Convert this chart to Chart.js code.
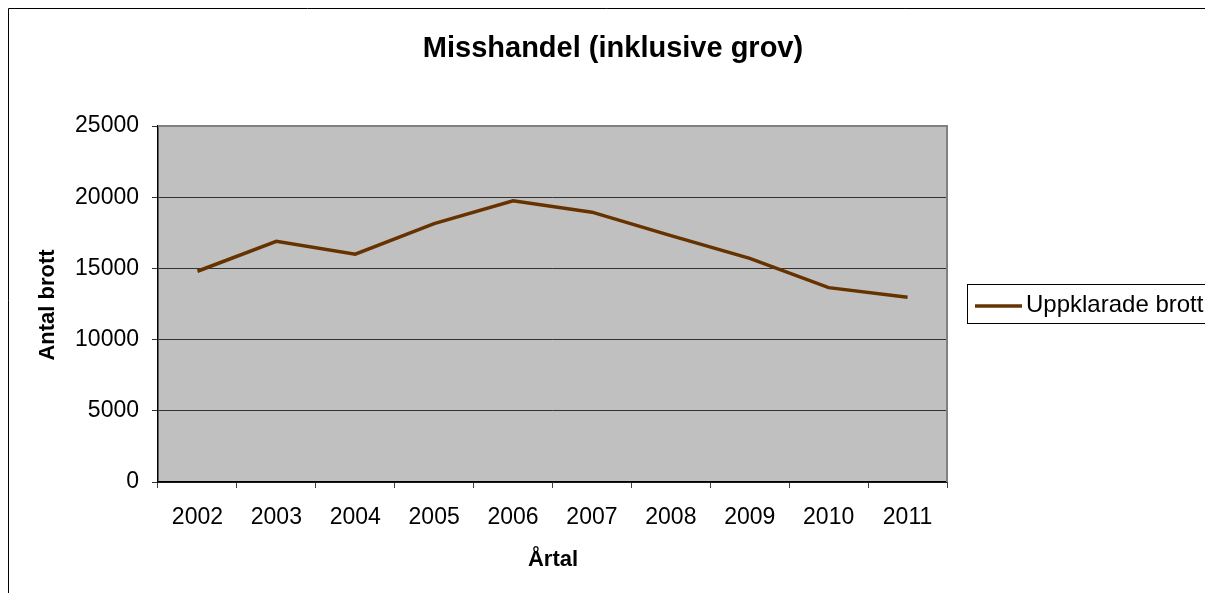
<!DOCTYPE html>
<html>
<head>
<meta charset="utf-8">
<script src="https://cdn.jsdelivr.net/npm/chart.js@4"></script>
<style>
  body { margin: 0; background: #fff; }
  canvas { display: block; }
</style>
</head>
<body>
<canvas id="chart" width="1205" height="593"></canvas>
<script>
// chart data
const years = ['2002', '2003', '2004', '2005', '2006', '2007', '2008', '2009', '2010', '2011'];
const solvedCrimes = [14800, 16900, 16000, 18150, 19750, 18950, 17300, 15700, 13650, 12980];
const yTicks = [0, 5000, 10000, 15000, 20000, 25000];

const chartTitle = 'Misshandel (inklusive grov)';
const seriesLabel = 'Uppklarade brott';
const xTitle = 'Årtal';
const yTitle = 'Antal brott';

const font = '"Liberation Sans", Arial, sans-serif';

// draws frame, grey plot background, titles and legend
const decorations = {
    id: 'decorations',
    beforeDraw(chart) {
        const c = chart.ctx;
        const a = chart.chartArea;
        c.save();
        c.fillStyle = '#c0c0c0';
        c.fillRect(a.left, a.top, a.right - a.left, a.bottom - a.top);
        c.restore();
    },
    afterDraw(chart) {
        const c = chart.ctx;
        const a = chart.chartArea;
        c.save();

        // plot area top/right edges
        c.strokeStyle = '#808080';
        c.lineWidth = 2;
        c.beginPath();
        c.moveTo(a.left, a.top);
        c.lineTo(a.right, a.top);
        c.lineTo(a.right, a.bottom);
        c.stroke();

        // outer frame
        c.strokeStyle = '#000';
        c.lineWidth = 1;
        c.beginPath();
        c.moveTo(8.5, 593);
        c.lineTo(8.5, 8.5);
        c.lineTo(1205, 8.5);
        c.stroke();

        c.fillStyle = '#000';
        c.textAlign = 'center';
        c.textBaseline = 'middle';

        c.font = 'bold 29px ' + font;
        c.fillText(chartTitle, 613, 49);

        c.font = 'bold 22px ' + font;
        c.fillText(xTitle, 553, 560);

        c.save();
        c.translate(48, 305);
        c.rotate(-Math.PI / 2);
        c.fillText(yTitle, 0, 0);
        c.restore();

        // legend
        c.strokeStyle = '#000';
        c.lineWidth = 1;
        c.strokeRect(967.5, 284.5, 250, 39);
        c.strokeStyle = '#663300';
        c.lineWidth = 3.5;
        c.beginPath();
        c.moveTo(975, 306);
        c.lineTo(1022, 306);
        c.stroke();
        c.font = '24px ' + font;
        c.textAlign = 'left';
        c.fillText(chart.data.datasets[0].label, 1026, 305);

        c.restore();
    }
};

new Chart(document.getElementById('chart'), {
    type: 'line',
    data: {
        labels: years,
        datasets: [{
            label: seriesLabel,
            data: solvedCrimes,
            borderColor: '#663300',
            borderWidth: 3.5,
            pointRadius: 0,
            tension: 0,
            fill: false
        }]
    },
    options: {
        responsive: false,
        animation: false,
        layout: {
            padding: { left: 0, top: 126, right: 1205 - 947, bottom: 0 }
        },
        plugins: {
            legend: { display: false },
            title: { display: false },
            tooltip: { enabled: false }
        },
        scales: {
            x: {
                offset: true,
                afterFit: s => { s.height = 593 - 482; },
                grid: {
                    offset: true,
                    drawOnChartArea: false,
                    drawTicks: true,
                    tickLength: 6,
                    color: '#404040'
                },
                border: { color: '#000', width: 1.5 },
                ticks: {
                    color: '#000',
                    font: { family: font, size: 23 },
                    padding: 16,
                    maxRotation: 0
                }
            },
            y: {
                min: 0,
                max: 25000,
                afterFit: s => { s.width = 158; },
                afterBuildTicks: s => { s.ticks = yTicks.map(v => ({ value: v })); },
                grid: {
                    color: '#333',
                    lineWidth: 1,
                    drawTicks: true,
                    tickLength: 6
                },
                border: { color: '#000', width: 1.5 },
                ticks: {
                    color: '#000',
                    font: { family: font, size: 23 },
                    padding: 13,
                    callback: v => String(v)
                }
            }
        }
    },
    plugins: [decorations]
});
</script>
</body>
</html>
